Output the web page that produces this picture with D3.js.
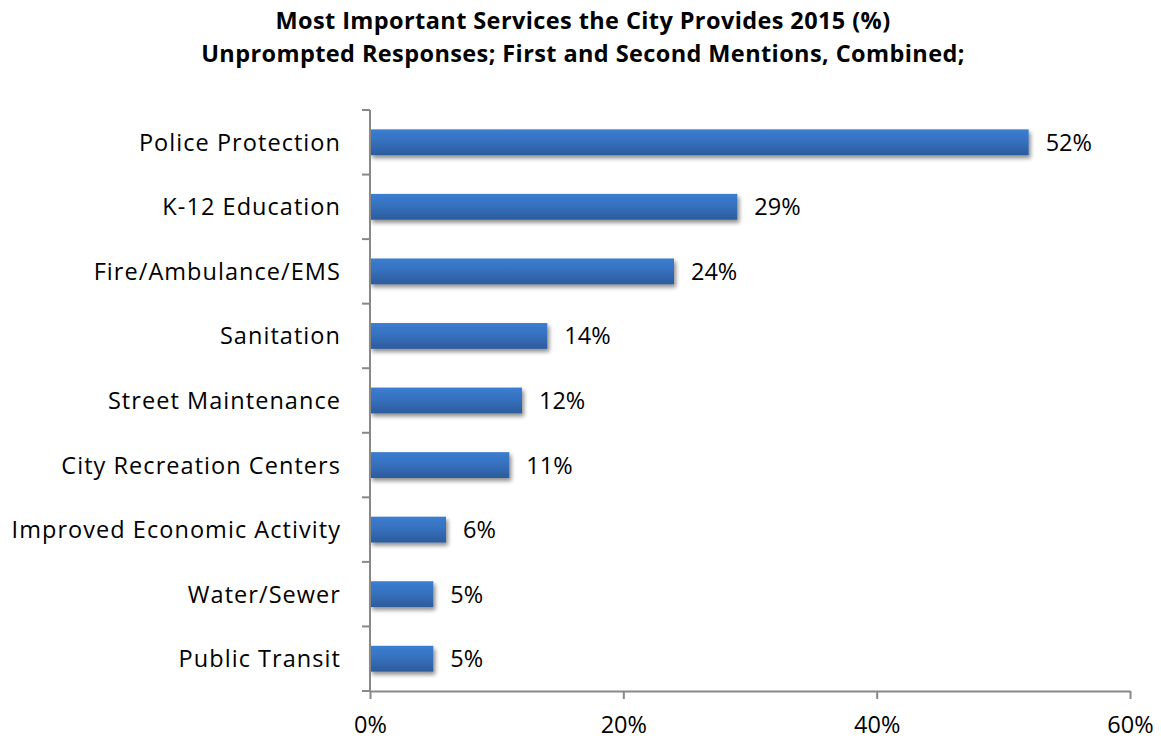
<!DOCTYPE html>
<html>
<head>
<meta charset="utf-8">
<script src="https://cdn.jsdelivr.net/npm/d3@7"></script>
<style>
  html, body { margin: 0; padding: 0; background: #fff; }
  svg { display: block; font-family: "Open Sans", Lato, sans-serif; }
</style>
</head>
<body>
<svg id="chart" width="1161" height="740"></svg>
<script>
// Services and share of respondents naming them (%)
const categories = [
  "Police Protection",
  "K-12 Education",
  "Fire/Ambulance/EMS",
  "Sanitation",
  "Street Maintenance",
  "City Recreation Centers",
  "Improved Economic Activity",
  "Water/Sewer",
  "Public Transit"
];
const values = [52, 29, 24, 14, 12, 11, 6, 5, 5];
const tickValues = [0, 20, 40, 60];
const titleLines = [
  "Most Important Services the City Provides 2015 (%)",
  "Unprompted Responses; First and Second Mentions, Combined;"
];

const svg = d3.select("#chart");
const margin = { left: 370, right: 31, top: 110, bottom: 49 };
const W = 1161, H = 740;
const fontFamily = "'Open Sans', Lato, sans-serif";
const labelSize = 23.5;

const x = d3.scaleLinear().domain([0, 60]).range([margin.left, W - margin.right]);
const y = d3.scaleBand().domain(categories).range([margin.top, H - margin.bottom]).paddingInner(0.6).paddingOuter(0.3);

// Title
svg.append("g").selectAll("text").data(titleLines).join("text")
  .attr("x", 583).attr("y", (d, i) => 29 + i * 33)
  .attr("text-anchor", "middle")
  .attr("font-size", 23.5).attr("font-weight", "bold").attr("fill", "#000")
  .attr("letter-spacing", 0.4)
  .text(d => d);

// Bar fill and drop shadow
const defs = svg.append("defs");
const grad = defs.append("linearGradient").attr("id", "barFill")
  .attr("x1", 0).attr("y1", 0).attr("x2", 0).attr("y2", 1);
grad.append("stop").attr("offset", "0%").attr("stop-color", "#3b7dd0");
grad.append("stop").attr("offset", "45%").attr("stop-color", "#3671bf");
grad.append("stop").attr("offset", "100%").attr("stop-color", "#2c5b9b");
const shadow = defs.append("filter").attr("id", "barShadow")
  .attr("x", "-5%").attr("y", "-30%").attr("width", "115%").attr("height", "180%");
shadow.append("feGaussianBlur").attr("in", "SourceAlpha").attr("stdDeviation", 2.2).attr("result", "b");
shadow.append("feOffset").attr("in", "b").attr("dx", 2).attr("dy", 3).attr("result", "o");
shadow.append("feComponentTransfer").attr("in", "o").attr("result", "s")
  .append("feFuncA").attr("type", "linear").attr("slope", 0.45);
const merge = shadow.append("feMerge");
merge.append("feMergeNode").attr("in", "s");
merge.append("feMergeNode").attr("in", "SourceGraphic");

// Bars
svg.append("g").selectAll("rect").data(categories).join("rect")
  .attr("x", x(0))
  .attr("y", d => y(d))
  .attr("width", (d, i) => x(values[i]) - x(0))
  .attr("height", y.bandwidth())
  .attr("fill", "url(#barFill)")
  .attr("filter", "url(#barShadow)");

// Value labels
svg.append("g").selectAll("text").data(categories).join("text")
  .attr("x", (d, i) => x(values[i]) + 17)
  .attr("y", d => y(d) + y.bandwidth() / 2)
  .attr("dy", "0.36em")
  .attr("font-size", labelSize).attr("fill", "#000")
  .text((d, i) => values[i] + "%");

// Category axis: ticks at band boundaries
const yAxis = svg.append("g");
const bounds = d3.range(categories.length + 1).map(i => margin.top + i * y.step());
yAxis.append("line")
  .attr("x1", x(0)).attr("x2", x(0))
  .attr("y1", margin.top).attr("y2", H - margin.bottom)
  .attr("stroke", "#888").attr("stroke-width", 2);
yAxis.selectAll("line.tick").data(bounds).join("line").attr("class", "tick")
  .attr("x1", x(0) - 8).attr("x2", x(0))
  .attr("y1", d => d).attr("y2", d => d)
  .attr("stroke", "#888").attr("stroke-width", 2);
yAxis.selectAll("text").data(categories).join("text")
  .attr("x", x(0) - 29)
  .attr("y", d => y(d) + y.bandwidth() / 2)
  .attr("dy", "0.36em")
  .attr("text-anchor", "end")
  .attr("font-size", labelSize).attr("fill", "#000")
  .attr("letter-spacing", 1.05)
  .text(d => d);

// Value axis
const xAxis = svg.append("g")
  .attr("transform", `translate(0,${H - margin.bottom})`)
  .call(d3.axisBottom(x).tickValues(tickValues).tickFormat(d => d + "%").tickSize(8).tickSizeOuter(0));
xAxis.select(".domain").attr("stroke", "#888").attr("stroke-width", 2);
xAxis.selectAll(".tick line").attr("stroke", "#888").attr("stroke-width", 2);
xAxis.selectAll(".tick text").attr("font-size", labelSize).attr("fill", "#000")
  .attr("font-family", fontFamily)
  .attr("y", 34).attr("dy", "0.36em");
</script>
</body>
</html>
